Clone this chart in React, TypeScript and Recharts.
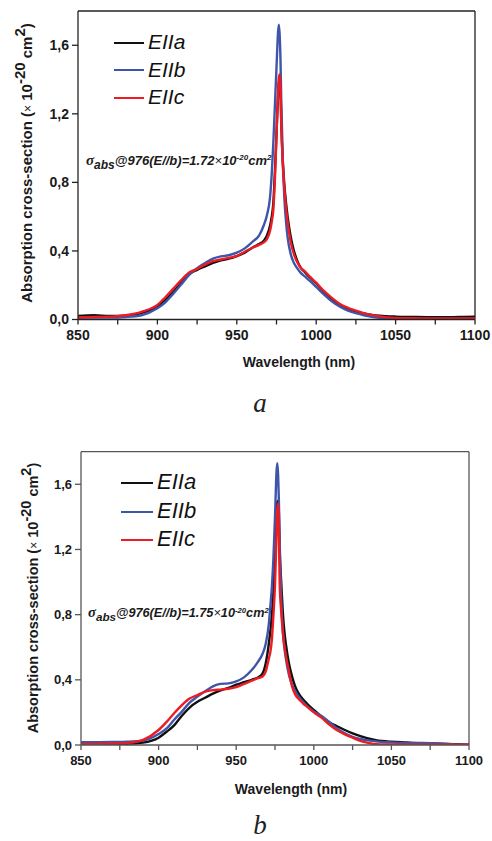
import { LineChart, Line, XAxis, YAxis, Legend, ReferenceLine } from "recharts";

// wavelength grid (nm), shared by both panels
const wavelengths = [
  850, 860, 870, 880, 890, 900, 905, 910, 915, 920, 925, 930, 935, 940, 945, 950, 955, 960, 964, 967,
  969, 971, 972, 973, 974, 975, 976, 976.5, 977, 977.5, 978, 979, 980, 981, 982, 984, 986, 988, 990,
  993, 996, 1000, 1005, 1010, 1015, 1020, 1025, 1030, 1035, 1040, 1050, 1060, 1070, 1080, 1090, 1100,
];

// panel a
const aEa = [
  0.02, 0.025, 0.02, 0.022, 0.038, 0.075, 0.115, 0.16, 0.215, 0.265, 0.29, 0.31, 0.33, 0.345, 0.355, 0.37, 0.39, 0.42, 0.44, 0.46,
  0.49, 0.55, 0.6, 0.68, 0.86, 1.08, 1.31, 1.38, 1.4, 1.34, 1.15, 0.92, 0.78, 0.68, 0.6, 0.48, 0.4, 0.345, 0.305,
  0.275, 0.245, 0.21, 0.16, 0.115, 0.085, 0.062, 0.047, 0.035, 0.027, 0.022, 0.017, 0.015, 0.014, 0.013, 0.015, 0.016,
];
const aEb = [
  0.012, 0.012, 0.012, 0.015, 0.025, 0.065, 0.1, 0.15, 0.205, 0.26, 0.3, 0.33, 0.355, 0.368, 0.375, 0.39, 0.415, 0.455, 0.49, 0.55,
  0.61, 0.72, 0.85, 1.03, 1.25, 1.47, 1.68, 1.72, 1.66, 1.52, 1.28, 0.92, 0.7, 0.57, 0.48, 0.38, 0.33, 0.3, 0.275,
  0.25, 0.225, 0.19, 0.145, 0.105, 0.075, 0.052, 0.037, 0.025, 0.016, 0.01, 0.004, 0.003, 0.003, 0.003, 0.003, 0.003,
];
const aEc = [
  0.012, 0.015, 0.016, 0.025, 0.045, 0.085, 0.13, 0.18, 0.23, 0.275, 0.295, 0.32, 0.34, 0.35, 0.36, 0.37, 0.395, 0.42, 0.435, 0.45,
  0.47, 0.52, 0.57, 0.64, 0.82, 1.08, 1.33, 1.41, 1.43, 1.36, 1.15, 0.9, 0.76, 0.65, 0.57, 0.45, 0.38, 0.335, 0.305,
  0.28, 0.25, 0.215, 0.165, 0.125, 0.09, 0.068, 0.052, 0.037, 0.026, 0.018, 0.009, 0.007, 0.006, 0.006, 0.006, 0.006,
];

// panel b
const bEa = [
  0.005, 0.005, 0.006, 0.008, 0.015, 0.045, 0.08, 0.12, 0.18, 0.23, 0.265, 0.29, 0.315, 0.335, 0.35, 0.37, 0.385, 0.4, 0.415, 0.44,
  0.5, 0.62, 0.7, 0.8, 0.95, 1.15, 1.4, 1.49, 1.5, 1.42, 1.2, 1.0, 0.82, 0.7, 0.62, 0.5, 0.42, 0.36, 0.32,
  0.28, 0.25, 0.215, 0.174, 0.14, 0.115, 0.092, 0.072, 0.055, 0.04, 0.03, 0.02, 0.015, 0.01, 0.008, 0.005, 0.002,
];
const bEb = [
  0.017, 0.017, 0.018, 0.02, 0.027, 0.068, 0.1, 0.155, 0.205, 0.26, 0.297, 0.33, 0.36, 0.375, 0.378, 0.39, 0.415, 0.46, 0.51, 0.56,
  0.62, 0.74, 0.85, 0.97, 1.15, 1.4, 1.68, 1.73, 1.66, 1.5, 1.25, 0.9, 0.7, 0.6, 0.53, 0.43, 0.37, 0.33, 0.3,
  0.265, 0.235, 0.205, 0.178, 0.14, 0.1, 0.072, 0.05, 0.037, 0.028, 0.022, 0.016, 0.012, 0.012, 0.01, 0.004, 0.0,
];
const bEc = [
  0.005, 0.007, 0.009, 0.013, 0.032, 0.092, 0.14, 0.195, 0.245, 0.285, 0.307, 0.328, 0.337, 0.34, 0.345, 0.355, 0.375, 0.395, 0.41, 0.42,
  0.45, 0.53, 0.57, 0.65, 0.8, 0.98, 1.3, 1.45, 1.48, 1.32, 1.0, 0.82, 0.7, 0.61, 0.55, 0.45, 0.36, 0.31, 0.285,
  0.256, 0.232, 0.2, 0.168, 0.125, 0.09, 0.065, 0.045, 0.025, 0.013, 0.005, 0.003, 0.002, 0.002, 0.002, 0.002, 0.002,
];

const seriesNames = ["EIIa", "EIIb", "EIIc"];
const seriesColors = ["#111111", "#3f55a9", "#ec1c24"];
const xTicks = [850, 875, 900, 925, 950, 975, 1000, 1025, 1050, 1075, 1100];
const yTicks = [0, 0.4, 0.8, 1.2, 1.6];
const captions = ["a", "b"];
const peakValues = ["1.72", "1.75"];

const sans = "Arial, 'Liberation Sans', Helvetica, sans-serif";
const serif = "'Times New Roman', 'Liberation Serif', serif";

type Layout = {
  top: number;
  plotLeft: number;
  plotRight: number;
  plotTop: number;
  plotBottom: number;
  tickFont: number;
  frame: string;
  legendLeft: number;
  legendTop: number;
  legendLine: number;
  legendFont: number;
  legendRow: number;
  yLabel: [number, number];
  yLabelFont: number;
  xLabel: [number, number];
  note: [number, number];
  noteFont: number;
  caption: [number, number];
};

const layoutA: Layout = {
  top: 0, plotLeft: 78, plotRight: 475, plotTop: 11, plotBottom: 319.5,
  tickFont: 14, frame: "#222",
  legendLeft: 114, legendTop: 28, legendLine: 30, legendFont: 21, legendRow: 27.5,
  yLabel: [23, 163], yLabelFont: 15, xLabel: [299, 362], note: [86, 162], noteFont: 13, caption: [260, 412],
};
const layoutB: Layout = {
  top: 420, plotLeft: 81, plotRight: 469, plotTop: 31.7, plotBottom: 325,
  tickFont: 13, frame: "#555",
  legendLeft: 121, legendTop: 48, legendLine: 32, legendFont: 22, legendRow: 28.5,
  yLabel: [30, 178], yLabelFont: 14.5, xLabel: [291, 369], note: [88, 194], noteFont: 12.7, caption: [260, 414],
};

function Panel({ series, layout, caption, peak }: { series: number[][]; layout: Layout; caption: string; peak: string }) {
  const H = 420;
  const data = wavelengths.map((w, i) => ({ w, a: series[0][i], b: series[1][i], c: series[2][i] }));
  const keys = ["a", "b", "c"];
  const tickStyle = { fontFamily: sans, fontWeight: 700, fontSize: layout.tickFont, fill: "#1a1a1a" };
  const textStyle = { position: "absolute" as const, fontFamily: sans, fontWeight: 700, color: "#1a1a1a", whiteSpace: "nowrap" as const, lineHeight: 1 };

  return (
    <div style={{ position: "absolute", left: 0, top: layout.top, width: 492, height: H }}>
      <LineChart
        width={492}
        height={H}
        data={data}
        margin={{ top: layout.plotTop, right: 492 - layout.plotRight, left: 0, bottom: 0 }}
      >
        <XAxis
          dataKey="w"
          type="number"
          domain={[850, 1100]}
          ticks={xTicks}
          interval={0}
          tickFormatter={(v: number) => (v % 50 === 0 ? String(v) : "")}
          height={H - layout.plotBottom}
          tick={tickStyle}
          tickSize={5}
          tickMargin={6}
          stroke={layout.frame}
          strokeWidth={1.3}
          allowDataOverflow
        />
        <YAxis
          type="number"
          domain={[0, 1.8]}
          ticks={yTicks}
          interval={0}
          width={layout.plotLeft}
          tickFormatter={(v: number) => v.toFixed(1).replace(".", ",")}
          tick={tickStyle}
          tickSize={6}
          tickMargin={3}
          stroke={layout.frame}
          strokeWidth={1.3}
          allowDataOverflow
        />
        <ReferenceLine y={1.8} stroke={layout.frame} strokeWidth={1.3} />
        <ReferenceLine x={1100} stroke={layout.frame} strokeWidth={1.3} />
        {keys.map((k, i) => (
          <Line
            key={k}
            dataKey={k}
            name={seriesNames[i]}
            type="monotone"
            stroke={seriesColors[i]}
            strokeWidth={2.4}
            dot={false}
            isAnimationActive={false}
          />
        ))}
        <Legend
          layout="horizontal"
          verticalAlign="middle"
          align="center"
          wrapperStyle={{ position: "absolute", left: layout.legendLeft, top: layout.legendTop, width: 120 }}
          content={() => (
            <div>
              {seriesNames.map((n, i) => (
                <div key={n} style={{ display: "flex", alignItems: "center", height: layout.legendRow }}>
                  <div style={{ width: layout.legendLine, height: 2, background: seriesColors[i], marginRight: 4, marginTop: 2 }} />
                  <span style={{ fontFamily: sans, fontStyle: "italic", fontSize: layout.legendFont, color: "#111", lineHeight: 1 }}>{n}</span>
                </div>
              ))}
            </div>
          )}
        />
      </LineChart>

      <div
        style={{
          ...textStyle,
          fontSize: layout.yLabelFont,
          left: layout.yLabel[0],
          top: layout.yLabel[1],
          transform: "translate(-50%, -50%) rotate(-90deg)",
        }}
      >
        Absorption cross-section (<span style={{ fontWeight: 400, fontSize: 12 }}>×</span> 10
        <sup style={{ fontSize: layout.yLabelFont, verticalAlign: "0.45em" }}>-20</sup> cm
        <sup style={{ fontSize: layout.yLabelFont, verticalAlign: "0.45em" }}>2</sup>)
      </div>

      <div style={{ ...textStyle, fontSize: 14, left: layout.xLabel[0], top: layout.xLabel[1], transform: "translate(-50%, -50%)" }}>
        Wavelength (nm)
      </div>

      <div
        style={{
          ...textStyle,
          fontSize: layout.noteFont,
          fontStyle: "italic",
          left: layout.note[0],
          top: layout.note[1],
          transform: "translateY(-50%)",
        }}
      >
        <span style={{ fontFamily: serif, fontSize: layout.noteFont + 2 }}>σ</span>
        <sub style={{ fontSize: layout.noteFont - 1, verticalAlign: "-0.3em" }}>abs</sub>@976(E//b)={peak}
        <span style={{ fontWeight: 400 }}>×</span>10
        <sup style={{ fontSize: layout.noteFont - 5, verticalAlign: "0.6em" }}>-20</sup>cm
        <sup style={{ fontSize: layout.noteFont - 5, verticalAlign: "0.6em" }}>2</sup>
      </div>

      <svg width={492} height={H} style={{ position: "absolute", left: 0, top: 0, pointerEvents: "none" }}>
        <text
          x={layout.caption[0]}
          y={layout.caption[1]}
          textAnchor="middle"
          fontFamily={serif}
          fontStyle="italic"
          fontSize={27}
          fill="#222"
        >
          {caption}
        </text>
      </svg>
    </div>
  );
}

export default function App() {
  return (
    <div style={{ position: "absolute", left: 0, top: 0, width: 492, height: 841, background: "#fff", overflow: "hidden" }}>
      <Panel series={[aEa, aEb, aEc]} layout={layoutA} caption={captions[0]} peak={peakValues[0]} />
      <Panel series={[bEa, bEb, bEc]} layout={layoutB} caption={captions[1]} peak={peakValues[1]} />
    </div>
  );
}
